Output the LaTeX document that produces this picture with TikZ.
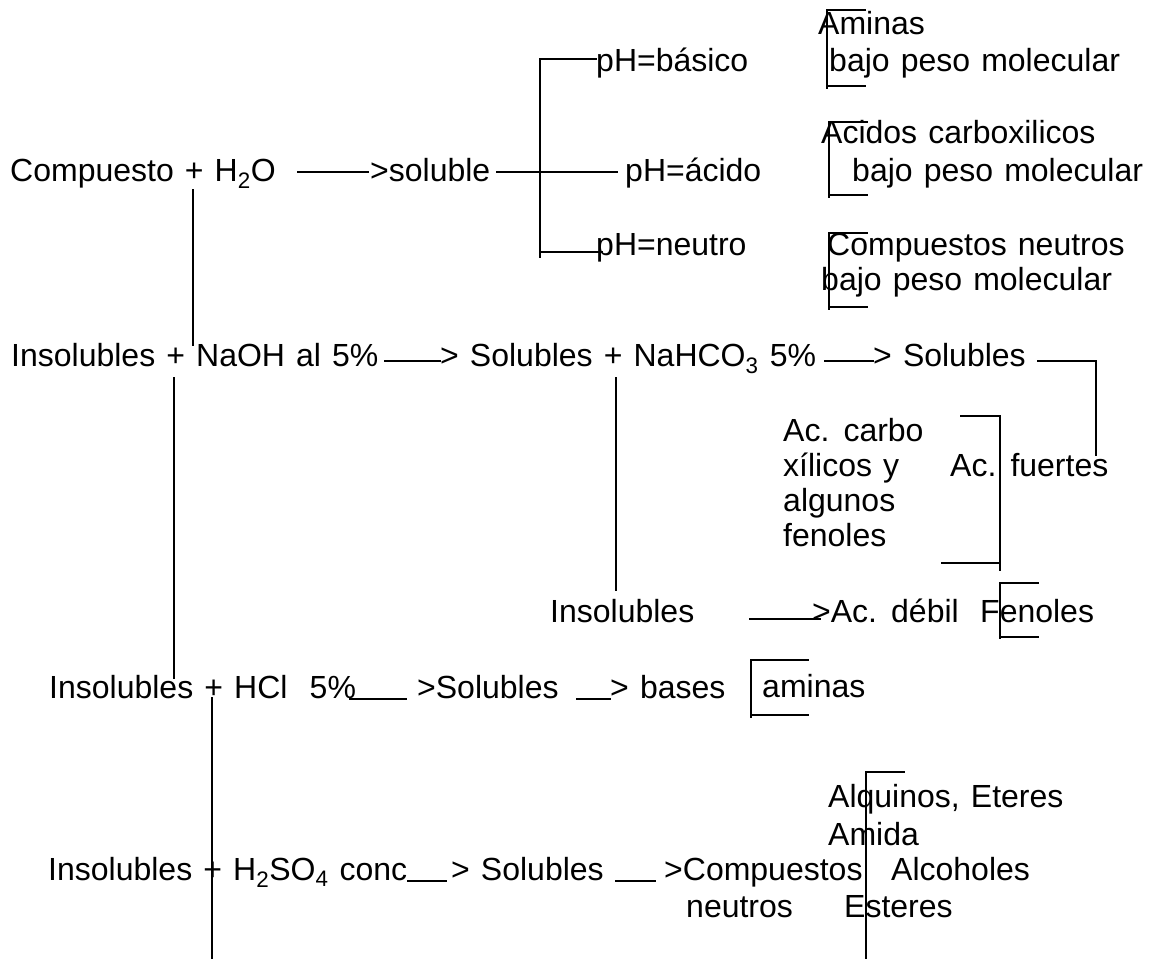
\documentclass[tikz,border=0pt]{standalone}
\usepackage{fontspec}
\setmainfont{Liberation Sans}[WordSpace=1.25]
\begin{document}
\begin{tikzpicture}[x=1pt,y=-1pt,
  txt/.style={anchor=base west, inner sep=0pt, font=\fontsize{32}{38}\selectfont},
  ln/.style={line width=1.5pt, line cap=rect}]
\useasboundingbox (0,0) rectangle (1150,958);
% ---- texts
\node[txt] (am)  at (818,35)  {Aminas};
\node[txt] (b1)  at (829,71)  {bajo peso molecular};
\node[txt] (bas) at (596,71)  {pH=básico};
\node[txt] (acs) at (821,143) {Acidos carboxilicos};
\node[txt] (comp) at (10,181) {Compuesto + H\textsubscript{2}O};
\node[txt] (sol) at (370,181) {>soluble};
\node[txt] (aci) at (625,181) {pH=ácido};
\node[txt] (b2)  at (852,181) {bajo peso molecular};
\node[txt] (neu) at (596,255) {pH=neutro};
\node[txt] (cn)  at (827,255) {Compuestos neutros};
\node[txt] (b3)  at (821,290) {bajo peso molecular};
\node[txt] (ins1) at (11,366) {Insolubles + NaOH al 5\%};
\node[txt] (sol2) at (440,366) {> Solubles + NaHCO\textsubscript{3} 5\%};
\node[txt] (sol3) at (873,366) {> Solubles};
\node[txt] (acc1) at (783,441) {Ac. carbo};
\node[txt] (acc2) at (783,476) {xílicos y};
\node[txt] (acc3) at (783,511) {algunos};
\node[txt] (acc4) at (783,546) {fenoles};
\node[txt] (fue)  at (950,476) {Ac. fuertes};
\node[txt] (ins2) at (550,622) {Insolubles};
\node[txt] (deb)  at (812,622) {>Ac. débil};
\node[txt] (fen)  at (980,622) {Fenoles};
\node[txt] (ins3) at (49,698)  {Insolubles + HCl\ \ 5\%};
\node[txt] (sol4) at (417,698) {>Solubles};
\node[txt] (bas2) at (610,698) {> bases};
\node[txt] (ami)  at (762,697) {aminas};
\node[txt] (alq)  at (828,807) {Alquinos, Eteres};
\node[txt] (amd)  at (828,845) {Amida};
\node[txt] (ins4) at (48,880)  {Insolubles + H\textsubscript{2}SO\textsubscript{4} conc};
\node[txt] (sol5) at (451,880) {> Solubles};
\node[txt] (cmp)  at (664,880) {>Compuestos};
\node[txt] (alc)  at (891,880) {Alcoholes};
\node[txt] (neu2) at (686,917) {neutros};
\node[txt] (est)  at (844,917) {Esteres};
% ---- line coordinates
\coordinate (k1a) at (865,10); \coordinate (k1b) at (827,10); \coordinate (k1c) at (827,88);
\coordinate (k1d) at (827,86); \coordinate (k1e) at (865,86);
\coordinate (t1) at (596,59); \coordinate (t2) at (540,59); \coordinate (t3) at (540,257);
\coordinate (t4) at (540,252); \coordinate (t5) at (602,252);
\coordinate (m1) at (497,172); \coordinate (m2) at (617,172);
\coordinate (a1) at (298,172); \coordinate (a2) at (368,172);
\coordinate (k2a) at (867,122); \coordinate (k2b) at (829,122); \coordinate (k2c) at (829,197);
\coordinate (k2d) at (829,195); \coordinate (k2e) at (867,195);
\coordinate (k3a) at (867,233); \coordinate (k3b) at (829,233); \coordinate (k3c) at (829,309);
\coordinate (k3d) at (829,307); \coordinate (k3e) at (867,307);
\coordinate (v1a) at (193,190); \coordinate (v1b) at (193,345);
\coordinate (r1a) at (385,361); \coordinate (r1b) at (440,361);
\coordinate (r2a) at (825,361); \coordinate (r2b) at (873,361);
\coordinate (r3a) at (1038,361); \coordinate (r3b) at (1096,361); \coordinate (r3c) at (1096,455);
\coordinate (v2a) at (616,378); \coordinate (v2b) at (616,590);
\coordinate (v3a) at (174,378); \coordinate (v3b) at (174,678);
\coordinate (f1) at (961,416); \coordinate (f2) at (1000,416); \coordinate (f3) at (1000,570);
\coordinate (f4) at (942,563); \coordinate (f5) at (1000,563);
\coordinate (d1) at (750,619); \coordinate (d2) at (820,619);
\coordinate (g1) at (1038,583); \coordinate (g2) at (1000,583); \coordinate (g3) at (1000,638);
\coordinate (g4) at (1000,637); \coordinate (g5) at (1038,637);
\coordinate (u1) at (350,699); \coordinate (u2) at (406,699);
\coordinate (u3) at (577,699); \coordinate (u4) at (610,699);
\coordinate (h1) at (808,660); \coordinate (h2) at (751,660); \coordinate (h3) at (751,717);
\coordinate (h4) at (751,715); \coordinate (h5) at (808,715);
\coordinate (v4a) at (212,698); \coordinate (v4b) at (212,958);
\coordinate (w1) at (408,881); \coordinate (w2) at (446,881);
\coordinate (w3) at (616,881); \coordinate (w4) at (655,881);
\coordinate (e1) at (904,772); \coordinate (e2) at (866,772); \coordinate (e3) at (866,958);
% ---- lines
\draw[ln] (k1a) -- (k1b) -- (k1c); \draw[ln] (k1d) -- (k1e);
\draw[ln] (t1) -- (t2) -- (t3); \draw[ln] (t4) -- (t5); \draw[ln] (m1) -- (m2);
\draw[ln] (a1) -- (a2);
\draw[ln] (k2a) -- (k2b) -- (k2c); \draw[ln] (k2d) -- (k2e);
\draw[ln] (k3a) -- (k3b) -- (k3c); \draw[ln] (k3d) -- (k3e);
\draw[ln] (v1a) -- (v1b);
\draw[ln] (r1a) -- (r1b); \draw[ln] (r2a) -- (r2b); \draw[ln] (r3a) -- (r3b) -- (r3c);
\draw[ln] (v2a) -- (v2b); \draw[ln] (v3a) -- (v3b);
\draw[ln] (f1) -- (f2) -- (f3); \draw[ln] (f4) -- (f5);
\draw[ln] (d1) -- (d2);
\draw[ln] (g1) -- (g2) -- (g3); \draw[ln] (g4) -- (g5);
\draw[ln] (u1) -- (u2); \draw[ln] (u3) -- (u4);
\draw[ln] (h1) -- (h2) -- (h3); \draw[ln] (h4) -- (h5);
\draw[ln] (v4a) -- (v4b);
\draw[ln] (w1) -- (w2); \draw[ln] (w3) -- (w4);
\draw[ln] (e1) -- (e2) -- (e3);
\end{tikzpicture}
\end{document}
